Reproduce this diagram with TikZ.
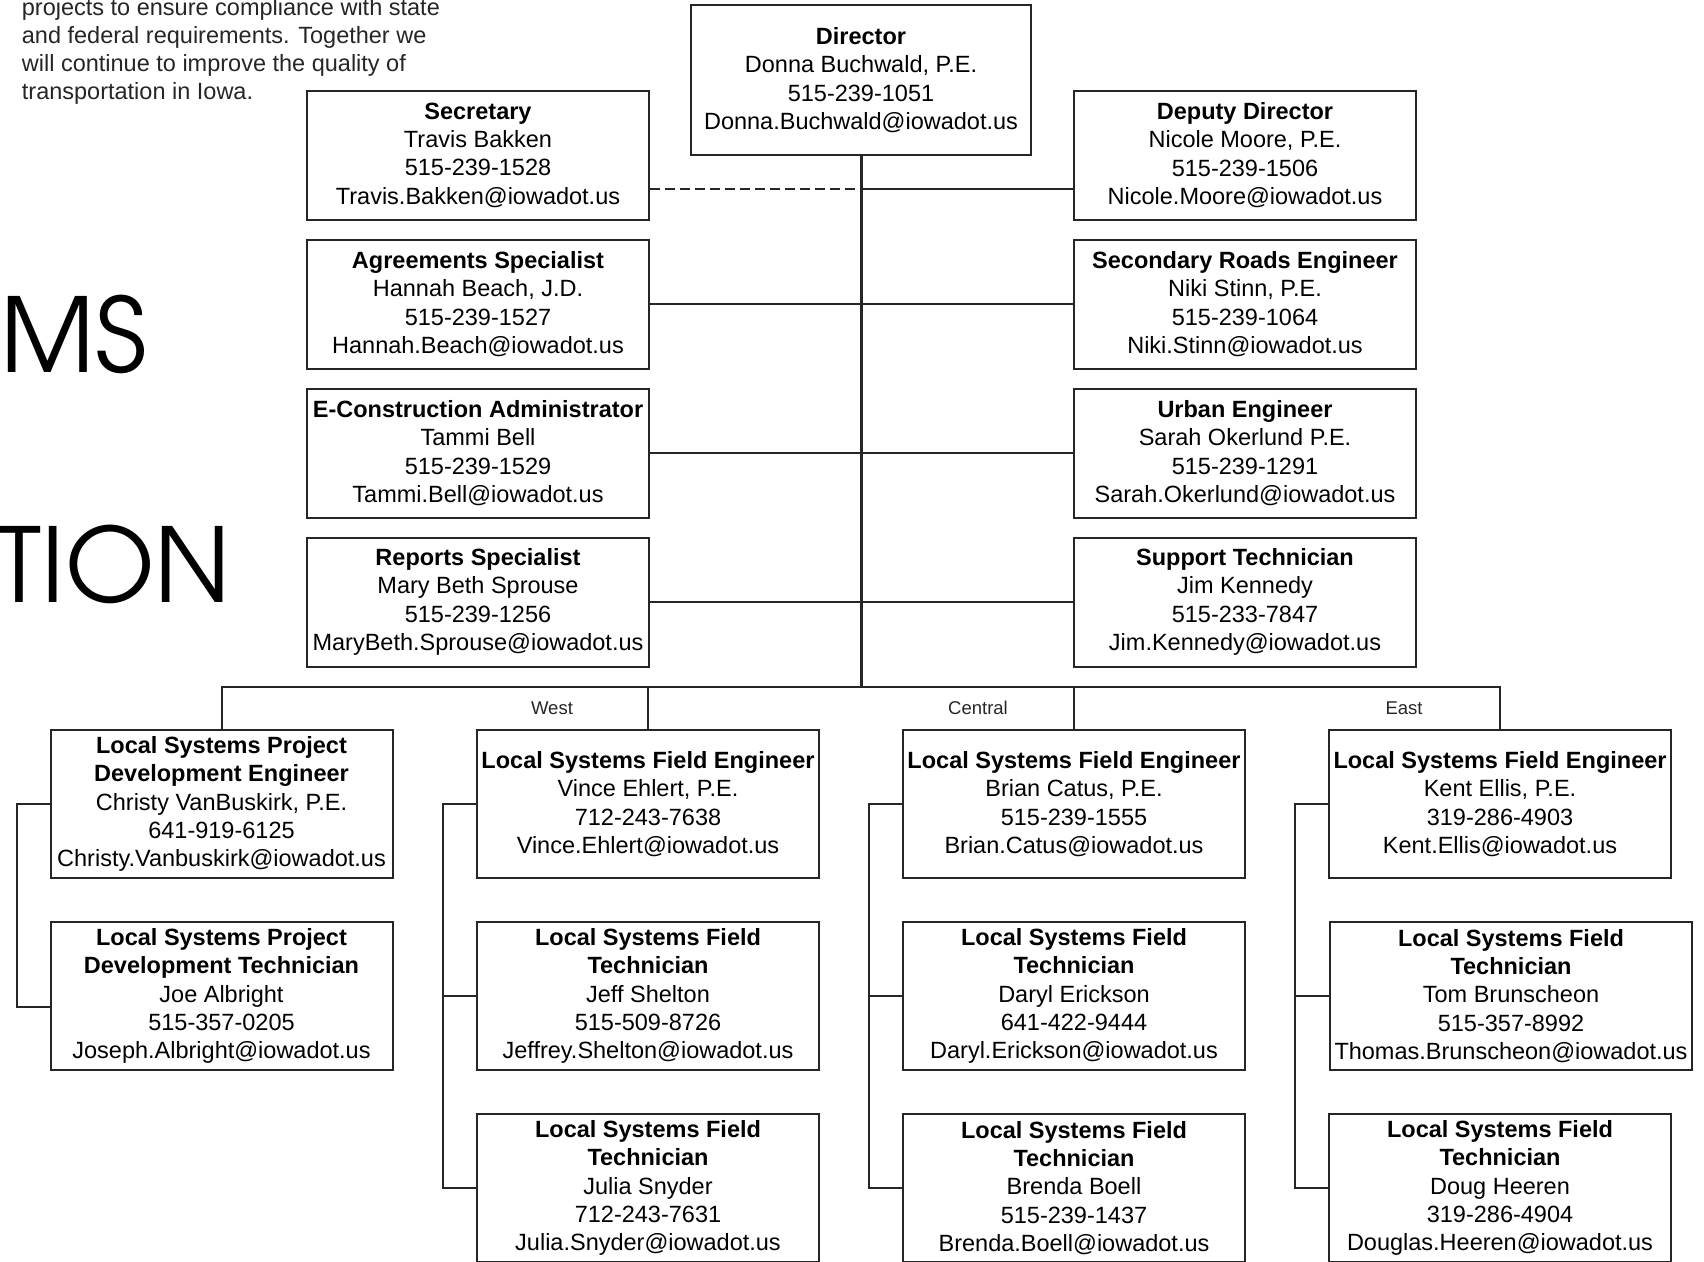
\documentclass[tikz,border=0pt]{standalone}
\usepackage{fontspec}
\setmainfont{Liberation Sans}
\newfontfamily\grandtitre{TeX Gyre Adventor}
\begin{document}
\begin{tikzpicture}[x=1pt,y=-1pt]
  \tikzstyle{boite}=[draw=black!85, line width=2pt, fill=white, align=center,
  minimum width=342pt, inner sep=1pt, text=black,
  font=\fontsize{23.5}{28.3}\selectfont]
  \tikzstyle{haut}=[boite, minimum height=129pt]
  \tikzstyle{bas}=[boite, minimum height=148pt]
  \tikzstyle{lien}=[draw=black!85, line width=2pt]
  \tikzstyle{texte}=[anchor=base west, inner sep=0pt, text=black!85,
  font=\fontsize{23.5}{28.3}\selectfont]
  \tikzstyle{region}=[inner sep=0pt, text=black!85, font=\fontsize{18.5}{22}\selectfont]
  \tikzstyle{titre}=[anchor=base east, inner sep=0pt, font=\grandtitre\fontsize{103}{110}\selectfont]
  \useasboundingbox[fill=white] (0,0) rectangle (1704,1261);
  % intro text
  \foreach \n/\y/\t in {l1/15.5/projects to ensure compliance with state,
    l2/43.5/and federal requirements. Together we,
    l3/71.5/will continue to improve the quality of,
    l4/99.5/transportation in Iowa.} {
    \node[texte] (\n) at (21.7,\y) {\t};
  }
  \node[titre] (ms) at (147,372) {MS};
  \node[titre] (tion) at (231,602) {TION};
  % director and staff
  \node[boite, minimum width=340pt, minimum height=150pt] (dir) at (861,80)
  {\textbf{Director}\\Donna Buchwald, P.E.\\515-239-1051\\Donna.Buchwald@iowadot.us};
  \foreach \n/\x/\y/\t in {
    sec/478/155/{\textbf{Secretary}\\Travis Bakken\\515-239-1528\\Travis.Bakken@iowadot.us},
    agr/478/304/{\textbf{Agreements Specialist}\\Hannah Beach, J.D.\\515-239-1527\\Hannah.Beach@iowadot.us},
    econ/478/453/{\textbf{E-Construction Administrator}\\Tammi Bell\\515-239-1529\\Tammi.Bell@iowadot.us},
    rep/478/602/{\textbf{Reports Specialist}\\Mary Beth Sprouse\\515-239-1256\\MaryBeth.Sprouse@iowadot.us},
    dep/1245/155/{\textbf{Deputy Director}\\Nicole Moore, P.E.\\515-239-1506\\Nicole.Moore@iowadot.us},
    srd/1245/304/{\textbf{Secondary Roads Engineer}\\Niki Stinn, P.E.\\515-239-1064\\Niki.Stinn@iowadot.us},
    urb/1245/453/{\textbf{Urban Engineer}\\Sarah Okerlund P.E.\\515-239-1291\\Sarah.Okerlund@iowadot.us},
    sup/1245/602/{\textbf{Support Technician}\\Jim Kennedy\\515-233-7847\\Jim.Kennedy@iowadot.us}} {
    \draw (\x,\y) node[haut] (\n) {\t};
  }
  % local systems
  \foreach \n/\x/\y/\t in {
    c1r1/221.5/804/{\textbf{Local Systems Project}\\\textbf{Development Engineer}\\Christy VanBuskirk, P.E.\\641-919-6125\\Christy.Vanbuskirk@iowadot.us},
    c1r2/221.5/996/{\textbf{Local Systems Project}\\\textbf{Development Technician}\\Joe Albright\\515-357-0205\\Joseph.Albright@iowadot.us},
    c2r1/648/804/{\textbf{Local Systems Field Engineer}\\Vince Ehlert, P.E.\\712-243-7638\\Vince.Ehlert@iowadot.us},
    c2r2/648/996/{\textbf{Local Systems Field}\\\textbf{Technician}\\Jeff Shelton\\515-509-8726\\Jeffrey.Shelton@iowadot.us},
    c2r3/648/1188/{\textbf{Local Systems Field}\\\textbf{Technician}\\Julia Snyder\\712-243-7631\\Julia.Snyder@iowadot.us},
    c3r1/1074/804/{\textbf{Local Systems Field Engineer}\\Brian Catus, P.E.\\515-239-1555\\Brian.Catus@iowadot.us},
    c3r2/1074/996/{\textbf{Local Systems Field}\\\textbf{Technician}\\Daryl Erickson\\641-422-9444\\Daryl.Erickson@iowadot.us},
    c3r3/1074/1188/{\textbf{Local Systems Field}\\\textbf{Technician}\\Brenda Boell\\515-239-1437\\Brenda.Boell@iowadot.us},
    c4r1/1500/804/{\textbf{Local Systems Field Engineer}\\Kent Ellis, P.E.\\319-286-4903\\Kent.Ellis@iowadot.us},
    c4r3/1500/1188/{\textbf{Local Systems Field}\\\textbf{Technician}\\Doug Heeren\\319-286-4904\\Douglas.Heeren@iowadot.us}} {
    \draw (\x,\y) node[bas] (\n) {\t};
  }
  \node[bas, minimum width=362pt] (c4r2) at (1511,996)
  {\textbf{Local Systems Field}\\\textbf{Technician}\\Tom Brunscheon\\515-357-8992\\Thomas.Brunscheon@iowadot.us};
  \node[region] (ouest) at (552,708) {West};
  \node[region] (centre) at (978,708) {Central};
  \node[region] (est) at (1404,708) {East};
  % links
  \coordinate (bus) at (861,687);
  \coordinate (secc) at ([yshift=32pt]sec.south east);
  \coordinate (depc) at ([yshift=32pt]dep.south west);
  \draw[lien, line width=3pt] (dir.south) -- (bus);
  \draw[lien, dash pattern=on 10pt off 5pt] (secc) -- (secc -| dir.south);
  \draw[lien] (depc) -- (depc -| dir.south);
  \foreach \n in {agr,econ,rep} \draw[lien] (\n.east) -- (\n.east -| dir.south);
  \foreach \n in {srd,urb,sup} \draw[lien] (\n.west) -- (\n.west -| dir.south);
  \draw[lien] (c1r1.north) |- (bus) -| (c4r1.north);
  \foreach \n in {c2r1,c3r1} \draw[lien] (\n.north) -- (\n.north |- bus);
  \draw[lien] (c1r1.west) -- ++(-33,0) |- ([yshift=-11pt]c1r2.west);
  \foreach \col in {c2,c3,c4} {
    \draw[lien] (\col r1.west) -- ++(-33,0) |- (\col r3.west);
    \draw[lien] (\col r2.west) -- ++(-33,0);
  }
\end{tikzpicture}
\end{document}
